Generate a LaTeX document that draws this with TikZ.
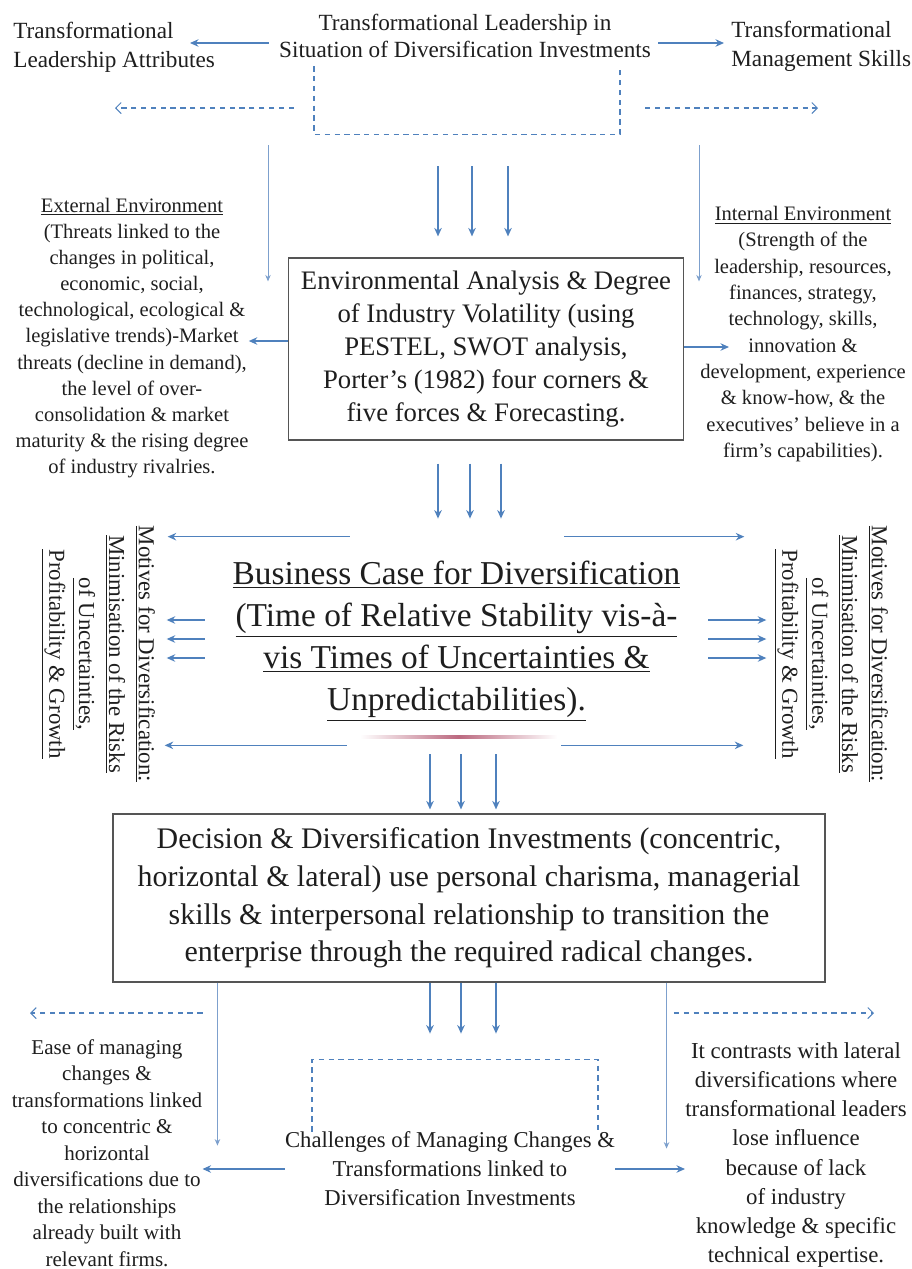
\documentclass[tikz,border=0pt]{standalone}
\usepackage{fontspec}
\setmainfont{Liberation Serif}
\usepackage{tikz}
\usetikzlibrary{positioning,arrows.meta,calc}
\definecolor{azul}{RGB}{79,129,189}
\definecolor{azulclaro}{RGB}{125,160,205}
\definecolor{marco}{RGB}{85,85,85}
\definecolor{tinta}{RGB}{30,30,30}
\definecolor{rojizo}{RGB}{165,55,85}

\begin{document}
\begin{tikzpicture}[
    x=0.02cm, y=-0.02cm,
    texto/.style={align=center, text=tinta, inner sep=0pt},
    caja/.style={draw=marco, line width=0.7pt, align=center, text=tinta, inner sep=0pt},
    lado/.style={texto, font=\fontsize{11.7}{14.9}\selectfont},
    motivo/.style={texto, rotate=-90, font=\fontsize{13}{17}\selectfont},
    flecha/.style={-{Stealth[length=1.7mm, width=1.5mm]}, azul, line width=0.8pt},
    fina/.style={-{Stealth[length=1.3mm, width=1.1mm]}, azulclaro, line width=0.5pt},
    punteada/.style={-{Straight Barb[length=1.1mm, width=2.2mm]}, azul, line width=0.6pt,
                     dash pattern=on 3pt off 2.6pt},
    marcopunteado/.style={azul, line width=0.6pt, dash pattern=on 3pt off 2.6pt}]
  \useasboundingbox (0,0) rectangle (912,1269);

  \node[texto, font=\fontsize{13.2}{15.5}\selectfont] (lider) at (465,36)
    {Transformational Leadership in\\Situation of Diversification Investments};
  \node[texto, anchor=west, align=left, font=\fontsize{13.2}{16.4}\selectfont] (atributos) at (13,47)
    {Transformational\\Leadership Attributes};
  \node[texto, anchor=west, align=left, font=\fontsize{13.2}{16.4}\selectfont] (habilidades) at (731,46)
    {Transformational\\Management Skills};

  \node[caja, minimum width=7.9cm, minimum height=3.64cm, font=\fontsize{15.2}{18.7}\selectfont] (amb) at (486,349)
    {Environmental Analysis \& Degree\\of Industry Volatility (using\\PESTEL, SWOT analysis,\\Porter’s (1982) four corners \&\\five forces \& Forecasting.};
  \node[lado] (externo) at (132,338)
    {\underline{External Environment}\\(Threats linked to the\\changes in political,\\economic, social,\\technological, ecological \&\\legislative trends)-Market\\threats (decline in demand),\\the level of over-\\consolidation \& market\\maturity \& the rising degree\\of industry rivalries.};
  \node[lado, font=\fontsize{11.7}{15}\selectfont] (interno) at (803,334)
    {\underline{Internal Environment}\\(Strength of the\\leadership, resources,\\finances, strategy,\\technology, skills,\\innovation \&\\development, experience\\\& know-how, \& the\\executives’ believe in a\\firm’s capabilities).};

  \node[texto, minimum width=10.06cm, minimum height=4.16cm, font=\fontsize{19}{24}\selectfont] (caso) at (456.5,641)
    {\underline{Business Case for Diversification}\\\underline{(Time of Relative Stability vis-à-}\\\underline{vis Times of Uncertainties \&}\\\underline{Unpredictabilities).}};
  \node[motivo] (motivosizq) at (98,654)
    {\underline{Motives for Diversification:}\\\underline{Minimisation of the Risks}\\\underline{of Uncertainties,}\\\underline{Profitability \& Growth}};
  \node[motivo] (motivosder) at (831,654)
    {\underline{Motives for Diversification:}\\\underline{Minimisation of the Risks}\\\underline{of Uncertainties,}\\\underline{Profitability \& Growth}};
  \shade[left color=white, right color=white, middle color=rojizo!75] (360,735.5) rectangle (557,738.5);

  \node[caja, minimum width=14.24cm, minimum height=3.36cm, font=\fontsize{17}{21.5}\selectfont] (decision) at (469,898)
    {Decision \& Diversification Investments (concentric,\\horizontal \& lateral) use personal charisma, managerial\\skills \& interpersonal relationship to transition the\\enterprise through the required radical changes.};
  \node[texto, font=\fontsize{12.9}{16.5}\selectfont] (retos) at (450,1169)
    {Challenges of Managing Changes \&\\Transformations linked to\\Diversification Investments};
  \node[texto, font=\fontsize{12}{15.1}\selectfont] (facilidad) at (107,1153)
    {Ease of managing\\changes \&\\transformations linked\\to concentric \&\\horizontal\\diversifications due to\\the relationships\\already built with\\relevant firms.};
  \node[texto, font=\fontsize{13}{16.6}\selectfont] (contraste) at (796,1155)
    {It contrasts with lateral\\diversifications where\\transformational leaders\\lose influence\\because of lack\\of industry\\knowledge \& specific\\technical expertise.};

  \coordinate (atribfin) at (190,43);
  \coordinate (habilfin) at (724,43);
  \coordinate (puntizq) at (115,108);
  \coordinate (puntder) at (818,108);
  \coordinate (lineaizq) at (268,145);
  \coordinate (lineader) at (699,145);
  \coordinate (innov) at (729,347);
  \coordinate (puntizqb) at (30,1013);
  \coordinate (puntderb) at (874,1013);

  \draw[flecha] ($(lider.west)+(-10,7)$) -- (atribfin);
  \draw[flecha] ($(lider.east)+(7,7)$) -- (habilfin);
  \draw[marcopunteado] ($(lider.south)+(-151,8)$) -- ++(0,68) -| ($(lider.south)+(155,8)$);
  \draw[punteada] ($(puntizq -| lider.west)+(15,0)$) -- (puntizq);
  \draw[punteada] ($(puntder -| lider.east)+(-6,0)$) -- (puntder);
  \draw[fina] (lineaizq) -- ($(lineaizq |- amb.north)+(0,24)$);
  \draw[fina] (lineader) -- ($(lineader |- amb.north)+(0,24)$);
  \foreach \dx in {-48,-14,22}
    \draw[flecha] ($(amb.north)+(\dx,-91)$) -- ($(amb.north)+(\dx,-21)$);
  \draw[flecha] ($(amb.west)+(0,-8)$) coordinate (ambizq) -- (externo.east |- ambizq);
  \draw[flecha] (amb.east |- innov) -- (innov);
  \foreach \dx in {-48,-16,15}
    \draw[flecha] ($(amb.south)+(\dx,23)$) -- ($(amb.south)+(\dx,78)$);

  \draw[flecha] ($(caso.north west)+(145,0)$) -- ($(caso.north west)+(-37,0)$);
  \draw[flecha] ($(caso.north east)+(-144,0)$) -- ($(caso.north east)+(36,0)$);
  \draw[flecha] ($(caso.south west)+(142,0)$) -- ($(caso.south west)+(-40,0)$);
  \draw[flecha] ($(caso.south east)+(-147,0)$) -- ($(caso.south east)+(35,0)$);
  \foreach \dy in {-21,-2,17} {
    \draw[flecha] ($(caso.west)+(0,\dy)$) -- ($(caso.west)+(-38,\dy)$);
    \draw[flecha] ($(caso.east)+(0,\dy)$) -- ($(caso.east)+(58,\dy)$);
  }

  \foreach \dx in {-39,-8,27} {
    \draw[flecha] ($(decision.north)+(\dx,-59)$) -- ($(decision.north)+(\dx,-4)$);
    \draw[flecha] ($(decision.south)+(\dx,0)$) -- ($(decision.south)+(\dx,51)$);
  }
  \draw[fina] ($(decision.south west)+(105,0)$) -- ($(decision.south west)+(105,163)$);
  \draw[fina] ($(decision.south east)+(-159,0)$) -- ($(decision.south east)+(-159,166)$);
  \draw[punteada] (puntizqb -| facilidad.east) -- (puntizqb);
  \draw[punteada] ($(puntderb -| contraste.west)+(-11,0)$) -- (puntderb);
  \draw[marcopunteado] ($(retos.north)+(-138,0)$) -- ++(0,-72) -| ($(retos.north)+(148,0)$);
  \draw[flecha] (retos.west) -- (facilidad.east |- retos.west);
  \draw[flecha] (retos.east) -- (contraste.west |- retos.east);
\end{tikzpicture}
\end{document}
